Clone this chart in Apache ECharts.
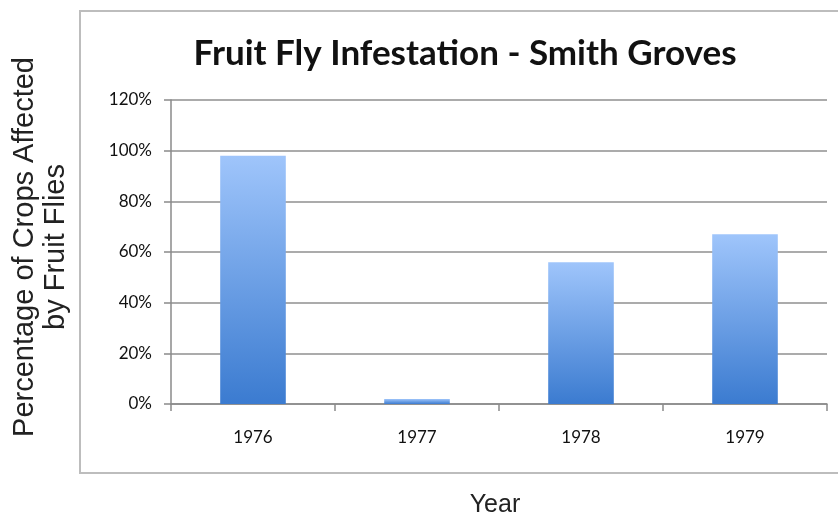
<!DOCTYPE html>
<html>
<head>
<meta charset="utf-8">
<script src="https://cdn.jsdelivr.net/npm/echarts@6/dist/echarts.min.js"></script>
<style>
  html, body { margin: 0; padding: 0; background: #fff; }
  #chart { width: 838px; height: 519px; }
</style>
</head>
<body>
<div id="chart"></div>
<script>
var years = ['1976', '1977', '1978', '1979'];
var affected = [98, 2, 56, 67];   // percent of crops
var yTicks = [0, 20, 40, 60, 80, 100, 120];

var myChart = echarts.init(document.getElementById('chart'));

var option = {
    animation: false,
    backgroundColor: '#fff',
    grid: { left: 171, right: 11, top: 100, bottom: 115 },
    graphic: [
        {
            type: 'rect',
            shape: { x: 80, y: 11, width: 800, height: 462 },
            style: { fill: 'none', stroke: '#bdbdbd', lineWidth: 2 },
            z: -1
        },
        {
            type: 'text',
            x: 465, y: 54,
            style: {
                text: 'Fruit Fly Infestation - Smith Groves',
                font: 'bold 35px Lato',
                fill: '#111',
                textAlign: 'center',
                textVerticalAlign: 'middle'
            }
        },
        {
            type: 'text',
            x: 40, y: 247,
            rotation: Math.PI / 2,
            style: {
                text: 'Percentage of Crops Affected\nby Fruit Flies',
                font: '29px "Liberation Sans"',
                lineHeight: 31,
                fill: '#222',
                textAlign: 'center',
                textVerticalAlign: 'middle'
            }
        },
        {
            type: 'text',
            x: 495, y: 505,
            style: {
                text: 'Year',
                font: '25px "Liberation Sans"',
                fill: '#222',
                textAlign: 'center',
                textVerticalAlign: 'middle'
            }
        }
    ],
    xAxis: {
        type: 'category',
        data: years,
        axisLine: { lineStyle: { color: '#8a8a8a', width: 1.5 } },
        axisTick: { show: true, length: 7, lineStyle: { color: '#8a8a8a', width: 1.5 } },
        axisLabel: { margin: 25, fontFamily: 'Lato', fontSize: 17, color: '#111' }
    },
    yAxis: {
        type: 'value',
        min: yTicks[0],
        max: yTicks[yTicks.length - 1],
        interval: 20,
        axisLine: { show: true, lineStyle: { color: '#8a8a8a', width: 1.5 } },
        axisTick: { show: true, length: 7, lineStyle: { color: '#8a8a8a', width: 1.5 } },
        axisLabel: { formatter: '{value}%', margin: 19, fontFamily: 'Lato', fontSize: 17, color: '#111' },
        splitLine: { lineStyle: { color: '#8f8f8f', width: 1.5 } }
    },
    series: [
        {
            type: 'bar',
            data: affected,
            barWidth: '40%',
            itemStyle: {
                color: new echarts.graphic.LinearGradient(0, 0, 0, 1, [
                    { offset: 0, color: '#9fc5fb' },
                    { offset: 1, color: '#3b7bd0' }
                ])
            }
        }
    ]
};
myChart.setOption(option);
</script>
</body>
</html>
